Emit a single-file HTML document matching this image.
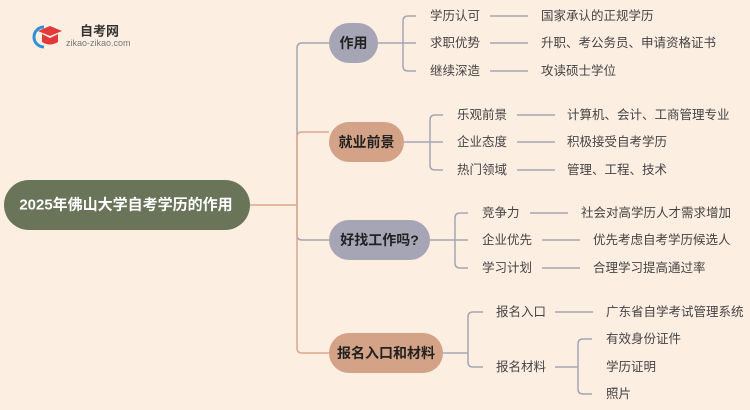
<!DOCTYPE html>
<html><head><meta charset="utf-8"><style>
html,body{margin:0;padding:0;background:#fdeee2;}
svg{display:block;font-family:"Liberation Sans","Noto Sans CJK SC",sans-serif;}
.t{font-size:12.5px;fill:#444;dominant-baseline:central;}
.b{font-size:14px;font-weight:bold;fill:#222;dominant-baseline:central;text-anchor:middle;}
</style></head><body>
<svg width="750" height="410" viewBox="0 0 750 410">
<rect width="750" height="410" fill="#fdeee2"/>
<path d="M44 27 A10 10 0 1 0 44 47" fill="none" stroke="#2f8fd8" stroke-width="3"/>
<polygon points="38,31 50,26 62,31 50,36" fill="#e03a3a"/>
<path d="M42 34 L42 42 Q50 47 58 42 L58 34 L50 38 Z" fill="#e03a3a"/>
<text x="80" y="31" font-size="13" font-weight="bold" fill="#333" dominant-baseline="central">自考网</text>
<text x="66" y="43" font-size="9" fill="#777" dominant-baseline="central">zikao-zikao.com</text>
<rect x="4" y="180" width="246" height="50" rx="25" fill="#6a7459"/>
<text x="126" y="205" font-size="15" font-weight="bold" fill="#fff" text-anchor="middle" dominant-baseline="central">2025年佛山大学自考学历的作用</text>
<g fill="none" stroke-width="1.5">
<path d="M250 205 H297" stroke="#d9a98c"/>
<path d="M329 43 H302 Q297 43 297 48 V205" stroke="#a6a5b5"/>
<path d="M297 205 V137 Q297 132 302 132 H329" stroke="#d9a98c"/>
<path d="M297 205 V235 Q297 240 302 240 H329" stroke="#a6a5b5"/>
<path d="M297 205 V348 Q297 353 302 353 H329" stroke="#d9a98c"/>
<g stroke="#a6a5b5">
<path d="M378 43 H403 M416 16 H408 Q403 16 403 21 V66 Q403 71 408 71 H416 M403 43 H416"/>
<path d="M490 16 H528 M490 43 H528 M490 71 H528"/>
<path d="M404 142 H430 M443 115 H435 Q430 115 430 120 V165 Q430 170 435 170 H443 M430 142 H443"/>
<path d="M517 115 H555 M517 142 H555 M517 170 H555"/>
<path d="M430 240 H455 M468 213 H460 Q455 213 455 218 V263 Q455 268 460 268 H468 M455 240 H468"/>
<path d="M530 213 H568 M542 240 H580 M542 268 H580"/>
<path d="M443 353 H468 M483 312 H473 Q468 312 468 317 V362 Q468 367 473 367 H483"/>
<path d="M555 312 H593 M555 367 H578 M592 339 H583 Q578 339 578 344 V389 Q578 394 583 394 H592"/>
</g>
</g>
<rect x="329" y="23" width="49" height="40" rx="20" fill="#a6a5b5"/>
<text class="b" x="353.5" y="43">作用</text>
<rect x="329" y="122" width="75" height="40" rx="20" fill="#d4a286"/>
<text class="b" x="366.5" y="142">就业前景</text>
<rect x="329" y="220" width="101" height="40" rx="20" fill="#a6a5b5"/>
<text class="b" x="379.5" y="240">好找工作吗?</text>
<rect x="329" y="333" width="114" height="40" rx="20" fill="#d4a286"/>
<text class="b" x="386" y="353">报名入口和材料</text>
<text class="t" x="430" y="16">学历认可</text><text class="t" x="541" y="16">国家承认的正规学历</text>
<text class="t" x="430" y="43">求职优势</text><text class="t" x="541" y="43">升职、考公务员、申请资格证书</text>
<text class="t" x="430" y="71">继续深造</text><text class="t" x="541" y="71">攻读硕士学位</text>
<text class="t" x="457" y="115">乐观前景</text><text class="t" x="567" y="115">计算机、会计、工商管理专业</text>
<text class="t" x="457" y="142">企业态度</text><text class="t" x="567" y="142">积极接受自考学历</text>
<text class="t" x="457" y="170">热门领域</text><text class="t" x="567" y="170">管理、工程、技术</text>
<text class="t" x="482" y="213">竞争力</text><text class="t" x="581" y="213">社会对高学历人才需求增加</text>
<text class="t" x="482" y="240">企业优先</text><text class="t" x="593" y="240">优先考虑自考学历候选人</text>
<text class="t" x="482" y="268">学习计划</text><text class="t" x="593" y="268">合理学习提高通过率</text>
<text class="t" x="496" y="312">报名入口</text><text class="t" x="606" y="312">广东省自学考试管理系统</text>
<text class="t" x="496" y="367">报名材料</text>
<text class="t" x="606" y="339">有效身份证件</text>
<text class="t" x="606" y="367">学历证明</text>
<text class="t" x="606" y="394">照片</text>
</svg>
</body></html>
